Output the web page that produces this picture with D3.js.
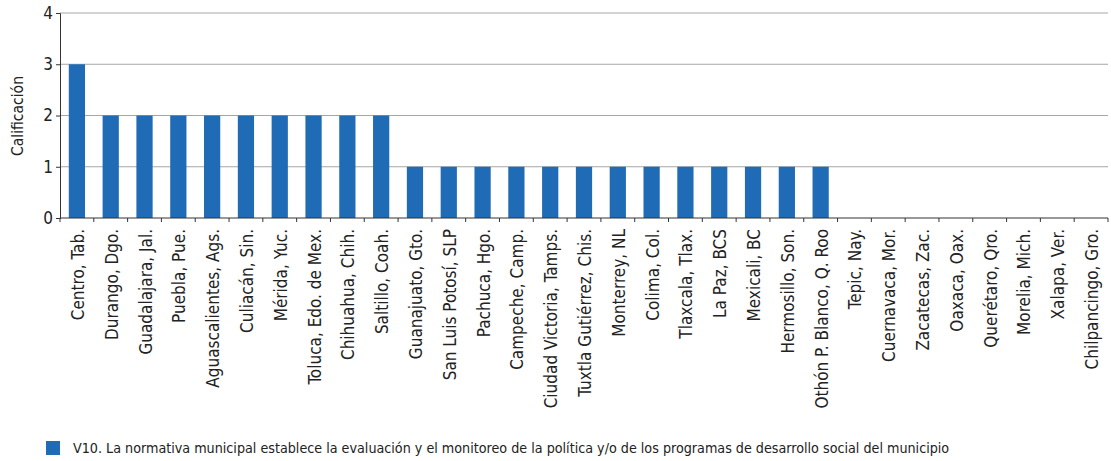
<!DOCTYPE html>
<html>
<head>
<meta charset="utf-8">
<script src="https://cdn.jsdelivr.net/npm/d3@7"></script>
<style>
  body { margin: 0; background: #fff; }
  text { font-family: "DejaVu Sans Condensed", "DejaVu Sans", sans-serif; fill: #222; }
</style>
</head>
<body>
<div id="chart"></div>
<script>
// Municipios (eje X) y calificación (eje Y)
var municipios = [
	'Centro, Tab.', 'Durango, Dgo.', 'Guadalajara, Jal.', 'Puebla, Pue.', 'Aguascalientes, Ags.',
	'Culiacán, Sin.', 'Mérida, Yuc.', 'Toluca, Edo. de Mex.', 'Chihuahua, Chih.', 'Saltillo, Coah.',
	'Guanajuato, Gto.', 'San Luis Potosí, SLP', 'Pachuca, Hgo.', 'Campeche, Camp.', 'Ciudad Victoria, Tamps.',
	'Tuxtla Gutiérrez, Chis.', 'Monterrey, NL', 'Colima, Col.', 'Tlaxcala, Tlax.', 'La Paz, BCS',
	'Mexicali, BC', 'Hermosillo, Son.', 'Othón P. Blanco, Q. Roo', 'Tepic, Nay.', 'Cuernavaca, Mor.',
	'Zacatecas, Zac.', 'Oaxaca, Oax.', 'Querétaro, Qro.', 'Morelia, Mich.', 'Xalapa, Ver.', 'Chilpancingo, Gro.'
];
var calificacion = [3, 2, 2, 2, 2, 2, 2, 2, 2, 2, 1, 1, 1, 1, 1, 1, 1, 1, 1, 1, 1, 1, 1, 0, 0, 0, 0, 0, 0, 0, 0];
var y_ticks = [0, 1, 2, 3, 4];
var serie_nombre = 'V10. La normativa municipal establece la evaluación y el monitoreo de la política y/o de los programas de desarrollo social del municipio';

var width = 1111, height = 461;
var margin = { top: 13, right: 3, bottom: 243, left: 60 };
var bar_color = '#1f6bb5';

var svg = d3.select('#chart').append('svg')
	.attr('width', width)
	.attr('height', height);

var x = d3.scaleBand().domain(municipios)
	.range([margin.left, width - margin.right])
	.paddingInner(0.52).paddingOuter(0.26);
var y = d3.scaleLinear().domain([0, 4]).range([height - margin.bottom, margin.top]);

// Gridlines
svg.append('g').selectAll('line')
	.data(y_ticks.filter(function(d) { return d > 0; }))
	.enter().append('line')
	.attr('x1', margin.left).attr('x2', width - margin.right)
	.attr('y1', function(d) { return y(d); }).attr('y2', function(d) { return y(d); })
	.attr('stroke', '#a6a6a6').attr('stroke-width', 1);

// Bars
svg.append('g').selectAll('rect')
	.data(calificacion)
	.enter().append('rect')
	.attr('x', function(d, i) { return x(municipios[i]); })
	.attr('y', function(d) { return y(d); })
	.attr('width', x.bandwidth())
	.attr('height', function(d) { return y(0) - y(d); })
	.attr('fill', bar_color);

// Y axis
var yAxis = svg.append('g')
	.attr('transform', 'translate(' + margin.left + ',0)')
	.call(d3.axisLeft(y).tickValues(y_ticks).tickSize(4).tickPadding(3).tickFormat(d3.format('d')));
yAxis.select('.domain').attr('stroke', '#333');
yAxis.selectAll('.tick line').attr('stroke', '#333');
yAxis.selectAll('text').style('font-size', '17px').style('font-family', '"DejaVu Sans Condensed", sans-serif').style('fill', '#222');

// X axis: ticks at band boundaries
var xAxis = svg.append('g').attr('transform', 'translate(0,' + y(0) + ')');
xAxis.append('line')
	.attr('x1', margin.left).attr('x2', width - margin.right)
	.attr('stroke', '#333');
var step = x.step();
xAxis.selectAll('.bt')
	.data(d3.range(municipios.length + 1))
	.enter().append('line')
	.attr('x1', function(i) { return margin.left + i * step; })
	.attr('x2', function(i) { return margin.left + i * step; })
	.attr('y1', 0).attr('y2', 4)
	.attr('stroke', '#333');
xAxis.selectAll('.lbl')
	.data(municipios)
	.enter().append('text')
	.text(function(d) { return d; })
	.attr('text-anchor', 'end')
	.attr('dominant-baseline', 'central')
	.attr('transform', function(d) {
		return 'translate(' + (x(d) + x.bandwidth() / 2 + 1) + ',11) rotate(-90)';
	})
	.style('font-size', '17px');

// Y title
svg.append('text')
	.text('Calificación')
	.attr('text-anchor', 'middle')
	.attr('transform', 'translate(23,' + 116 + ') rotate(-90)')
	.style('font-size', '15.5px');

// Legend
svg.append('rect')
	.attr('x', 46).attr('y', 441).attr('width', 14).attr('height', 14)
	.attr('fill', bar_color);
svg.append('text')
	.text(serie_nombre)
	.attr('x', 73).attr('y', 453)
	.style('font-size', '14.2px');
</script>
</body>
</html>
